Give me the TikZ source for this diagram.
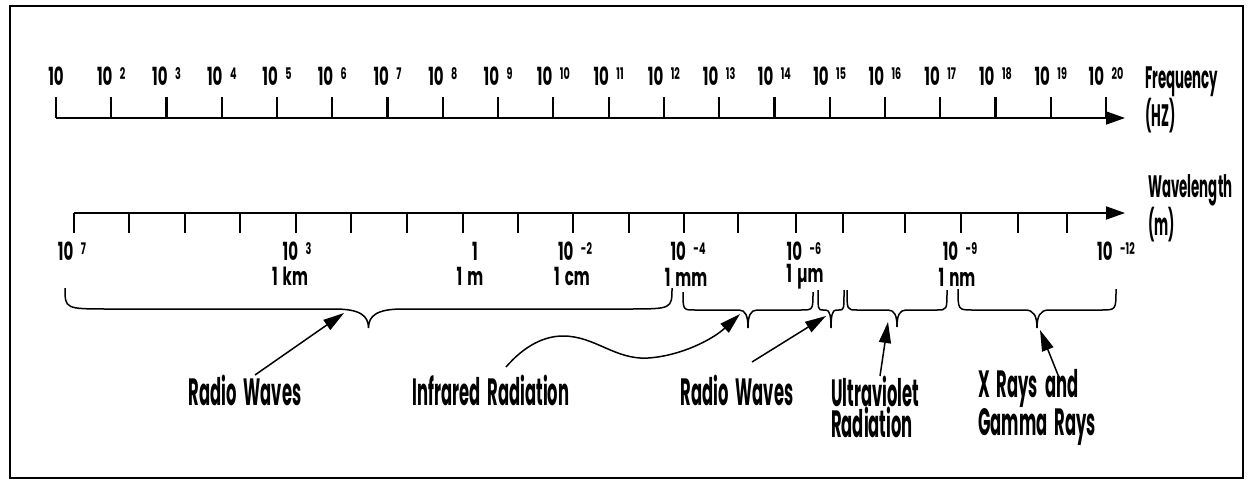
\documentclass[tikz,border=0pt]{standalone}
\usepackage{fontspec}
\setmainfont{Poppins}[FakeStretch=0.43]
\newfontfamily\lblfont{Poppins}[FakeStretch=0.6]
\usetikzlibrary{arrows.meta}
\newcommand\pw[1]{\hspace{0.3em}\raisebox{0.25em}{\fontsize{16}{16}\selectfont #1}}
\newcommand\gap{\hspace{5pt}}
\newcommand\bandfont{\bfseries\fontsize{38}{28.5}\selectfont\spaceskip=7pt\relax}
% brace: xa, xb, ytop, ymid, ytip, end radius, cusp width
\newcommand\Brace[7]{%
  \draw[brace] (#1,#3) .. controls (#1,#4) and (#1,#4) .. ({#1+#6},#4)
    -- ({(#1+#2)/2-#7},#4) .. controls ({(#1+#2)/2-0.25*#7},#4) and ({(#1+#2)/2},{#4+0.35*(#5-#4)}) .. ({(#1+#2)/2},#5)
    .. controls ({(#1+#2)/2},{#4+0.35*(#5-#4)}) and ({(#1+#2)/2+0.25*#7},#4) .. ({(#1+#2)/2+#7},#4)
    -- ({#2-#6},#4) .. controls (#2,#4) and (#2,#4) .. (#2,#3);}
\begin{document}
\begin{tikzpicture}[x=1pt,y=-1pt,
  axis/.style={line width=1.8pt,-{Triangle[length=19pt,width=13pt]}},
  tickmark/.style={line width=2.2pt},
  ticklbl/.style={font=\lblfont\bfseries\fontsize{25}{25}\selectfont,inner sep=0pt},
  title/.style={font=\bfseries\fontsize{31}{33}\selectfont,align=left,anchor=west,inner sep=0pt},
  band/.style={font=\bandfont,inner sep=0pt},
  brace/.style={line width=1.5pt},
  pointer/.style={line width=1.5pt,-{Triangle[length=21pt,width=12pt]}}]
\useasboundingbox (0,0) rectangle (1258,487);
\draw[line width=2pt] (10,6) rectangle (1243,478);
% frequency axis
\coordinate (fs) at (56,118);
\coordinate (fe) at (1125,118);
\draw[axis] (fs) -- (fe);
\foreach \i in {0,...,19} \draw[tickmark] ({56+55.263*\i},97) -- ({56+55.263*\i},118);
\node[ticklbl] (f1) at (56,76) {10};
\foreach \n [count=\i] in {2,...,20} \node[ticklbl] (f\n) at ({56+55.263*\i},76) {10\pw{\n}};
\node[title] (freq) at (1145,100) {Frequency\\(HZ)};
% wavelength axis
\coordinate (ws) at (74,213);
\coordinate (we) at (1125,213);
\draw[axis] (ws) -- (we);
\foreach \x in {74,129,185,240,296,351,407,463,518,573,629,684,738,796,843,905,961,1018,1067}
  \draw[tickmark] (\x,213) -- (\x,233);
\node[title] (wave) at (1148,208) {Wavelength\\(m)};
\node[ticklbl] (w7) at (72,251) {10\pw{7}};
\node[ticklbl] (w3) at (297,251) {10\pw{3}};
\node[ticklbl] (km) at (290,276) {1\gap km};
\node[ticklbl] (w0) at (475,251) {1};
\node[ticklbl] (m) at (470,276) {1\gap m};
\node[ticklbl] (wm2) at (575,251) {10\pw{-2}};
\node[ticklbl] (cm) at (572,276) {1\gap cm};
\node[ticklbl] (wm4) at (688,251) {10\pw{-4}};
\node[ticklbl] (mm) at (686,277) {1\gap mm};
\node[ticklbl] (wm6) at (804,251) {10\pw{-6}};
\node[ticklbl] (um) at (805,277) {1\gap µm};
\node[ticklbl] (wm9) at (960,251) {10\pw{-9}};
\node[ticklbl] (nm) at (957,277) {1\gap nm};
\node[ticklbl] (wm12) at (1116,251) {10\pw{-12}};
% braces
\Brace{65}{672}{288}{309}{328}{45}{34}
\Brace{683}{813}{292}{310}{328}{12}{9}
\Brace{818}{844}{290}{310}{328}{5}{5}
\Brace{847}{947}{290}{310}{327}{10}{9}
\Brace{958}{1116}{289}{310}{328}{15}{12}
% band labels
\node[band] (rw1) at (245,390) {Radio Waves};
\node[band] (ir) at (491,390) {Infrared Radiation};
\node[band] (rw2) at (737,390) {Radio Waves};
\node[band,align=left,anchor=west] (uv) at (831,407) {Ultraviolet\\Radiation};
\node[band,align=left,anchor=west] (xg) at (978,407) {X Rays and\\Gamma Rays};
% pointer targets
\coordinate (t1) at (344,313);
\coordinate (t2) at (740,314);
\coordinate (t3) at (826,316);
\coordinate (t4) at (888,322);
\coordinate (t5) at (1040,330);
\coordinate (s1) at (255,375);
\coordinate (s2) at (506,367);
\coordinate (s3) at (752,362);
\coordinate (s4) at (880,376);
\coordinate (s5) at (1060,380);
\draw[pointer] (s1) -- (t1);
\draw[pointer] (s2) .. controls (525,345) and (545,336) .. (563,336)
  .. controls (595,336) and (615,360) .. (648,358) .. controls (680,356) and (712,340) .. (t2);
\draw[pointer] (s3) -- (t3);
\draw[pointer] (s4) -- (t4);
\draw[pointer] (s5) -- (t5);
\end{tikzpicture}
\end{document}
